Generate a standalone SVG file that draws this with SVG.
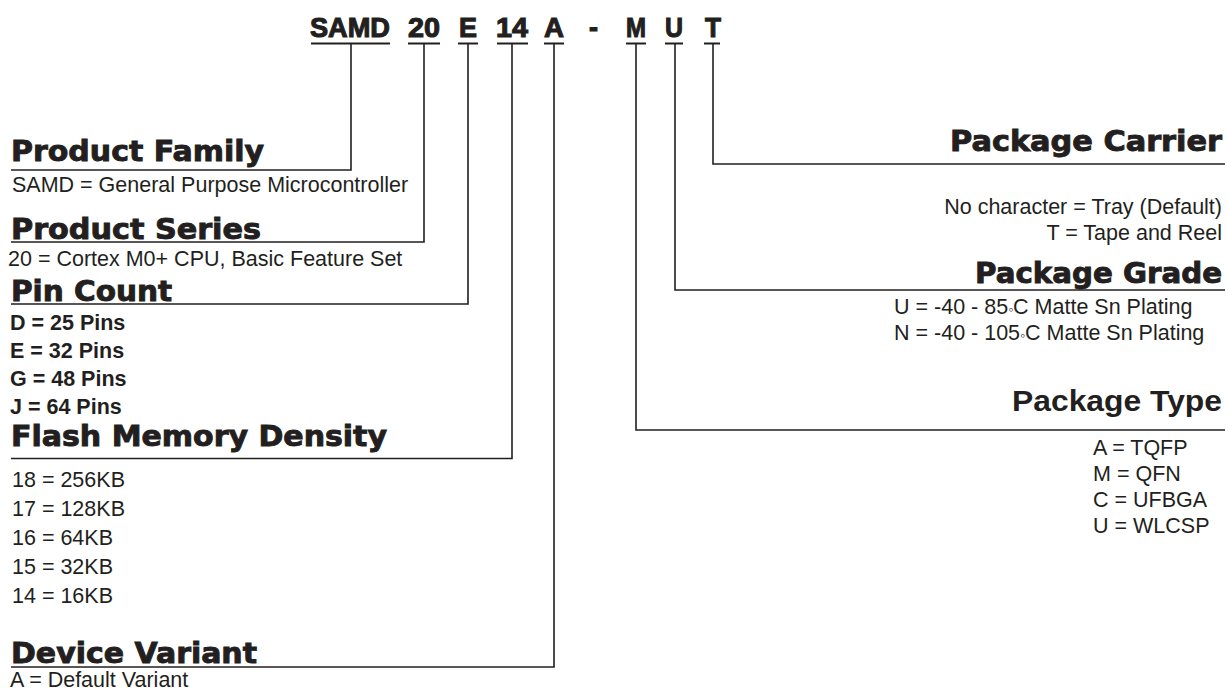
<svg xmlns="http://www.w3.org/2000/svg" width="1228" height="690" viewBox="0 0 1228 690">
<style>
.code{font-family:"Liberation Sans",Arial,sans-serif;font-weight:bold;font-size:28px;fill:#231f20;stroke:#231f20;stroke-width:1.1}
.head{font-family:"DejaVu Sans",sans-serif;font-weight:bold;font-size:28px;fill:#231f20;stroke:#231f20;stroke-width:0.9}
.head2{font-family:"Liberation Sans",Arial,sans-serif;font-weight:bold;font-size:29px;fill:#231f20}
.body{font-family:"Liberation Sans",Arial,sans-serif;font-size:21.5px;fill:#231f20}
.bold{font-family:"Liberation Sans",Arial,sans-serif;font-weight:bold;font-size:21.5px;fill:#231f20}
.deg{font-size:14px}
.ul{stroke:#231f20;stroke-width:2;fill:none}
.ln{stroke:#231f20;stroke-width:1.6;fill:none}
</style>
<rect width="1228" height="690" fill="#ffffff"/>
<g id="part-number">
<text class="code" x="310" y="37" textLength="80" lengthAdjust="spacingAndGlyphs">SAMD</text>
<text class="code" x="408" y="37" textLength="32" lengthAdjust="spacingAndGlyphs">20</text>
<text class="code" x="459" y="37" textLength="18" lengthAdjust="spacingAndGlyphs">E</text>
<text class="code" x="496" y="37" textLength="32" lengthAdjust="spacingAndGlyphs">14</text>
<text class="code" x="544" y="37" textLength="20" lengthAdjust="spacingAndGlyphs">A</text>
<text class="code" x="589" y="37" textLength="9" lengthAdjust="spacingAndGlyphs">-</text>
<text class="code" x="626" y="37" textLength="20" lengthAdjust="spacingAndGlyphs">M</text>
<text class="code" x="665" y="37" textLength="18" lengthAdjust="spacingAndGlyphs">U</text>
<text class="code" x="705" y="37" textLength="16" lengthAdjust="spacingAndGlyphs">T</text>
</g>
<g id="connectors">
<path class="ul" d="M311 43.5H390M408 43.5H440M458 43.5H478M497 43.5H528M544 43.5H564M626 43.5H646M665 43.5H683M704 43.5H720"/>
<path class="ln" d="M351 44V170H11"/>
<path class="ln" d="M424 44V242H11"/>
<path class="ln" d="M468 44V304H11"/>
<path class="ln" d="M512 44V458.5H11"/>
<path class="ln" d="M554 44V667H11"/>
<path class="ln" d="M636 44V430H1225"/>
<path class="ln" d="M675 44V290H1225"/>
<path class="ln" d="M713 44V164H1225"/>
</g>
<g id="product-family">
<text class="head" x="11" y="161" textLength="253" lengthAdjust="spacingAndGlyphs">Product Family</text>
<text class="body" x="12" y="192">SAMD = General Purpose Microcontroller</text>
</g>
<g id="product-series">
<text class="head" x="11" y="239" textLength="250" lengthAdjust="spacingAndGlyphs">Product Series</text>
<text class="body" x="8" y="266">20 = Cortex M0+ CPU, Basic Feature Set</text>
</g>
<g id="pin-count">
<text class="head" x="11" y="301" textLength="161" lengthAdjust="spacingAndGlyphs">Pin Count</text>
<text class="bold" x="10" y="330">D = 25 Pins</text>
<text class="bold" x="10" y="358">E = 32 Pins</text>
<text class="bold" x="10" y="386">G = 48 Pins</text>
<text class="bold" x="10" y="414">J = 64 Pins</text>
</g>
<g id="flash-memory-density">
<text class="head" x="11" y="446" textLength="376" lengthAdjust="spacingAndGlyphs">Flash Memory Density</text>
<text class="body" x="12" y="487">18 = 256KB</text>
<text class="body" x="12" y="516">17 = 128KB</text>
<text class="body" x="12" y="545">16 = 64KB</text>
<text class="body" x="12" y="574">15 = 32KB</text>
<text class="body" x="12" y="603">14 = 16KB</text>
</g>
<g id="device-variant">
<text class="head" x="11" y="663" textLength="246" lengthAdjust="spacingAndGlyphs">Device Variant</text>
<text class="body" x="10" y="687">A = Default Variant</text>
</g>
<g id="package-carrier">
<text class="head" x="950" y="151" textLength="272" lengthAdjust="spacingAndGlyphs">Package Carrier</text>
<text class="body" x="1222" y="214" text-anchor="end">No character = Tray (Default)</text>
<text class="body" x="1222" y="240" text-anchor="end">T = Tape and Reel</text>
</g>
<g id="package-grade">
<text class="head" x="975" y="283" textLength="247" lengthAdjust="spacingAndGlyphs">Package Grade</text>
<text class="body" x="894" y="314">U = -40 - 85<tspan class="deg">◦</tspan>C Matte Sn Plating</text>
<text class="body" x="894" y="340">N = -40 - 105<tspan class="deg">◦</tspan>C Matte Sn Plating</text>
</g>
<g id="package-type">
<text class="head2" x="1012" y="411" textLength="210" lengthAdjust="spacingAndGlyphs">Package Type</text>
<text class="body" x="1093" y="455">A = TQFP</text>
<text class="body" x="1093" y="481">M = QFN</text>
<text class="body" x="1093" y="507">C = UFBGA</text>
<text class="body" x="1093" y="533">U = WLCSP</text>
</g>
</svg>
